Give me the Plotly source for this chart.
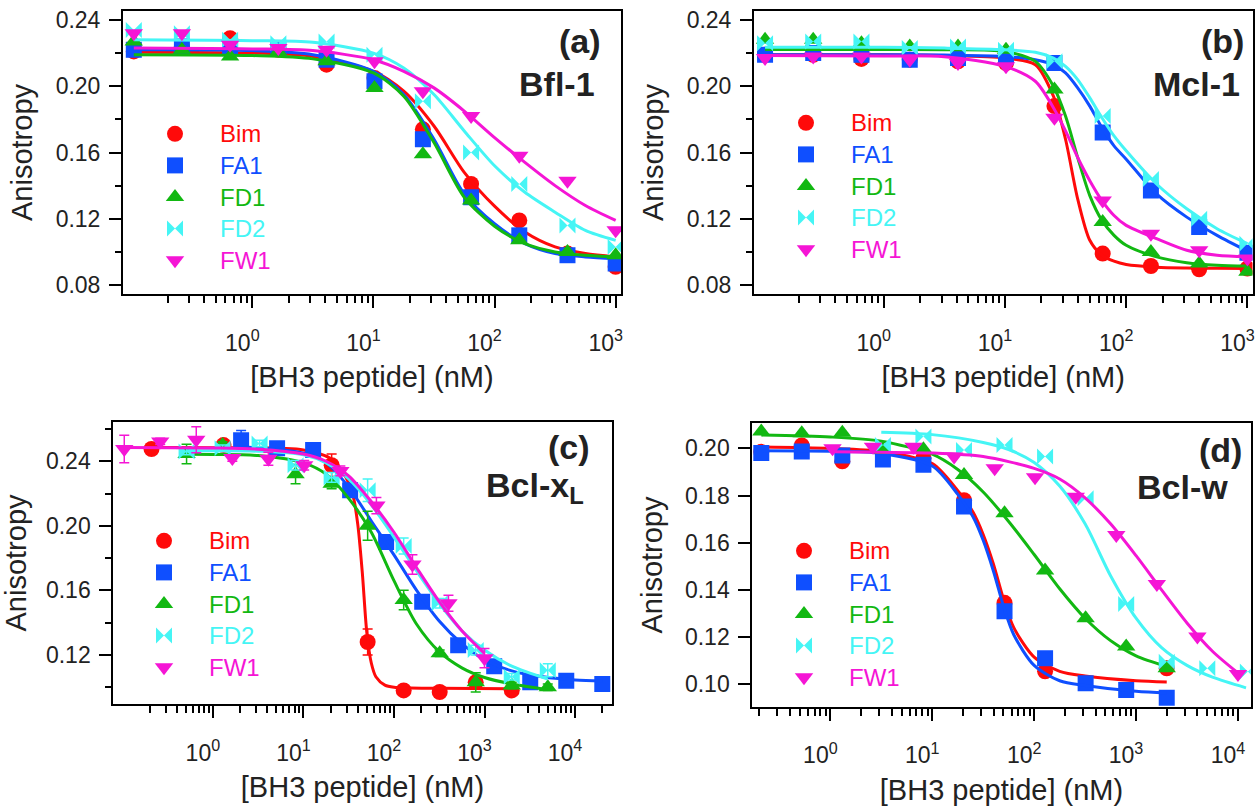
from plotly.graph_objects import Figure, Scatter

FONT = "Liberation Sans, Arial, sans-serif"
INK = "#222222"

SERIES = ["Bim", "FA1", "FD1", "FD2", "FW1"]
COLORS = ["#FF0A0A", "#0F4FFF", "#12B812", "#45F5F5", "#F515D5"]
SYMBOLS = ["circle", "square", "triangle-up", "bowtie", "triangle-down"]

TICK_VALS = [1, 10, 100, 1000, 10000]
TICK_TEXT = ["10<sup>0</sup>", "10<sup>1</sup>", "10<sup>2</sup>", "10<sup>3</sup>", "10<sup>4</sup>"]

# (a) Bfl-1
A_CONC = [0.105, 0.262, 0.655, 1.64, 4.10, 10.2, 25.6, 64.0, 160, 400, 1000]
A_BIM = [0.221, 0.224, 0.229, 0.222, 0.213, 0.205, 0.174, 0.141, 0.119, 0.099, 0.091]
A_FA1 = [0.222, 0.224, 0.223, 0.223, 0.216, 0.203, 0.168, 0.133, 0.110, 0.098, 0.093]
A_FD1 = [0.227, 0.222, 0.218, 0.221, 0.215, 0.199, 0.159, 0.131, 0.107, 0.100, 0.098]
A_FD2 = [0.234, 0.232, 0.228, 0.226, 0.227, 0.219, 0.191, 0.160, 0.141, 0.116, 0.103]
A_FW1 = [0.232, 0.232, 0.225, 0.223, 0.222, 0.215, 0.197, 0.182, 0.158, 0.143, 0.113]
A_FIT_CONC = [0.105, 1, 3.16, 10, 17.8, 31.6, 56.2, 100, 178, 316, 562, 1000]
A_FIT_BIM = [0.2205, 0.2200, 0.2180, 0.209, 0.197, 0.176, 0.148, 0.1276, 0.112, 0.103, 0.099, 0.097]
A_FIT_FA1 = [0.2220, 0.2215, 0.2190, 0.209, 0.195, 0.168, 0.135, 0.117, 0.105, 0.099, 0.097, 0.096]
A_FIT_FD1 = [0.2190, 0.2185, 0.2165, 0.208, 0.194, 0.166, 0.133, 0.1155, 0.105, 0.100, 0.098, 0.097]
A_FIT_FD2 = [0.2280, 0.2275, 0.2265, 0.220, 0.211, 0.195, 0.173, 0.152, 0.136, 0.124, 0.113, 0.107]
A_FIT_FW1 = [0.2230, 0.2225, 0.2215, 0.216, 0.209, 0.199, 0.185, 0.169, 0.154, 0.140, 0.128, 0.119]

# (b) Mcl-1
B_CONC = [0.105, 0.262, 0.655, 1.64, 4.10, 10.2, 25.6, 64.0, 160, 400, 1000]
B_BIM = [0.219, 0.219, 0.2165, 0.216, 0.215, 0.214, 0.188, 0.099, 0.0915, 0.0895, 0.090]
B_FA1 = [0.219, 0.220, 0.219, 0.216, 0.217, 0.218, 0.214, 0.172, 0.137, 0.115, 0.0995]
B_FD1 = [0.228, 0.228, 0.226, 0.224, 0.224, 0.222, 0.198, 0.118, 0.100, 0.093, 0.088]
B_FD2 = [0.226, 0.227, 0.227, 0.223, 0.224, 0.222, 0.215, 0.182, 0.144, 0.120, 0.105]
B_FW1 = [0.217, 0.218, 0.218, 0.216, 0.214, 0.212, 0.181, 0.131, 0.111, 0.101, 0.096]
B_FIT_CONC = [0.105, 1, 3.16, 10, 17.8, 25.1, 31.6, 39.8, 50.1, 63.1, 79.4, 100, 178, 316, 562, 1000]
B_FIT_BIM = [0.219, 0.219, 0.2185, 0.217, 0.213, 0.194, 0.168, 0.132, 0.107, 0.098, 0.0944,
             0.0924, 0.0908, 0.0903, 0.0901, 0.0900]
B_FIT_FA1 = [0.219, 0.219, 0.2188, 0.218, 0.216, 0.213, 0.208, 0.199, 0.188, 0.175, 0.164,
             0.156, 0.135, 0.121, 0.110, 0.1005]
B_FIT_FD1 = [0.2222, 0.2222, 0.222, 0.221, 0.215, 0.200, 0.182, 0.157, 0.134, 0.119, 0.110,
             0.104, 0.097, 0.0935, 0.092, 0.0915]
B_FIT_FD2 = [0.2235, 0.2235, 0.223, 0.222, 0.2205, 0.217, 0.212, 0.204, 0.193, 0.181, 0.170,
             0.161, 0.141, 0.126, 0.114, 0.105]
B_FIT_FW1 = [0.2185, 0.2183, 0.2178, 0.212, 0.203, 0.187, 0.173, 0.157, 0.143, 0.131, 0.122,
             0.116, 0.108, 0.101, 0.098, 0.097]

# (c) Bcl-xL
C_BIM_CONC = [0.21, 1.31, 20.5, 51.2, 128, 320, 800, 2000]
C_BIM = [0.2476, 0.2500, 0.2375, 0.128, 0.098, 0.097, 0.103, 0.098]
C_BIM_ERR = [0.002, 0.002, 0.007, 0.008, 0.003, 0.002, 0.003, 0.002]
C_FA1_CONC = [2.05, 5.12, 12.8, 32.8, 81.9, 205, 512, 1280, 3200, 8000, 20000]
C_FA1 = [0.253, 0.248, 0.247, 0.222, 0.190, 0.153, 0.126, 0.113, 0.103, 0.104, 0.102]
C_FA1_ERR = [0.006, 0.002, 0.004, 0.002, 0.002, 0.002, 0.002, 0.002, 0.002, 0.002, 0.001]
C_FD1_CONC = [0.512, 1.28, 8.19, 20.5, 51.2, 128, 320, 800, 2000, 5000]
C_FD1 = [0.2445, 0.250, 0.232, 0.226, 0.200, 0.154, 0.121, 0.103, 0.101, 0.100]
C_FD1_ERR = [0.006, 0.002, 0.006, 0.003, 0.009, 0.006, 0.002, 0.006, 0.002, 0.002]
C_FD2_CONC = [0.512, 1.28, 3.28, 8.19, 20.5, 51.2, 128, 320, 800, 2000, 5000]
C_FD2 = [0.246, 0.248, 0.251, 0.2375, 0.230, 0.222, 0.1875, 0.152, 0.123, 0.1065, 0.1105]
C_FD2_ERR = [0.002, 0.002, 0.002, 0.003, 0.003, 0.007, 0.005, 0.003, 0.003, 0.002, 0.004]
C_FW1_CONC = [0.105, 0.262, 0.655, 1.64, 4.10, 10.2, 25.6, 64.0, 160, 400, 1000]
C_FW1 = [0.2476, 0.2523, 0.2533, 0.242, 0.2415, 0.2375, 0.234, 0.2125, 0.176, 0.152, 0.118]
C_FW1_ERR = [0.0085, 0.002, 0.008, 0.002, 0.004, 0.003, 0.003, 0.005, 0.006, 0.005, 0.006]
C_FIT_BIM_CONC = [0.2, 1, 10, 20, 28.2, 35.5, 39.8, 44.7, 50.1, 56.2, 63.1, 79.4, 100, 316, 2000]
C_FIT_BIM = [0.2485, 0.2484, 0.247, 0.2417, 0.232, 0.218, 0.201, 0.171, 0.134, 0.115, 0.1065,
             0.1013, 0.100, 0.0993, 0.0990]
C_FIT_FA1_CONC = [2.05, 10, 17.8, 31.6, 56.2, 100, 178, 316, 562, 1000, 1780, 3160, 10000, 20000]
C_FIT_FA1 = [0.249, 0.245, 0.239, 0.224, 0.203, 0.182, 0.160, 0.141, 0.127, 0.117, 0.111,
             0.1075, 0.1045, 0.104]
C_FIT_FD_CONC = [0.512, 1, 3.16, 10, 17.8, 31.6, 56.2, 100, 178, 316, 562, 1000, 2000, 5000]
C_FIT_FD1 = [0.2443, 0.2442, 0.2435, 0.239, 0.232, 0.217, 0.196, 0.166, 0.139, 0.122, 0.112,
             0.106, 0.102, 0.0985]
C_FIT_FD2 = [0.2465, 0.2465, 0.2462, 0.244, 0.239, 0.229, 0.213, 0.193, 0.172, 0.152, 0.135,
             0.123, 0.113, 0.105]
C_FIT_FW1_CONC = [0.105, 1, 3.16, 10, 17.8, 31.6, 56.2, 100, 178, 316, 562, 1000]
C_FIT_FW1 = [0.2485, 0.2482, 0.2475, 0.2445, 0.240, 0.231, 0.215, 0.196, 0.174, 0.153, 0.135, 0.121]

# (d) Bcl-w
D_CONC = [0.21, 0.524, 1.31, 3.28, 8.19, 20.5, 51.2, 128, 320, 800, 2000]
D_BIM_CONC = [0.21, 0.524, 1.31, 8.19, 20.5, 51.2, 128, 2000]
D_BIM = [0.1985, 0.2012, 0.1945, 0.1958, 0.178, 0.1345, 0.1055, 0.1068]
D_FA1 = [0.198, 0.1986, 0.197, 0.1953, 0.193, 0.1753, 0.131, 0.111, 0.1004, 0.0976, 0.0943]
D_FD1 = [0.2071, 0.2064, 0.2066, 0.1993, 0.1996, 0.1887, 0.1725, 0.1482, 0.128, 0.116, 0.1068]
D_FD2_CONC = [3.28, 8.19, 20.5, 51.2, 128, 320, 800, 2000, 5000, 12500]
D_FD2 = [0.2014, 0.205, 0.1993, 0.2014, 0.1965, 0.1788, 0.134, 0.1096, 0.1068, 0.1054]
D_FW1_CONC = [1.05, 2.62, 6.55, 16.4, 41.0, 102, 256, 640, 1600, 4000, 10000]
D_FW1 = [0.200, 0.2007, 0.2007, 0.1965, 0.1915, 0.1877, 0.1795, 0.1633, 0.1425, 0.1202, 0.1044]
D_FIT_B_CONC = [0.21, 1, 3.16, 10, 17.8, 25.1, 31.6, 39.8, 50.1, 63.1, 100, 178, 316, 1000, 2000]
D_FIT_BIM = [0.2006, 0.2000, 0.1987, 0.1935, 0.182, 0.173, 0.1635, 0.151, 0.136, 0.124, 0.1115,
             0.1055, 0.1035, 0.1015, 0.1010]
D_FIT_FA1 = [0.1990, 0.1988, 0.1978, 0.1925, 0.1805, 0.171, 0.161, 0.148, 0.133, 0.121, 0.108,
             0.1015, 0.0995, 0.0970, 0.0963]
D_FIT_FD1_CONC = [0.21, 1, 3.16, 10, 17.8, 31.6, 56.2, 100, 178, 316, 562, 1000, 2000]
D_FIT_FD1 = [0.2056, 0.2048, 0.203, 0.1975, 0.191, 0.1815, 0.169, 0.155, 0.1405, 0.128, 0.1185,
             0.112, 0.1075]
D_FIT_FD2_CONC = [3.16, 10, 31.6, 56.2, 100, 178, 316, 562, 1000, 1780, 3160, 5620, 12000]
D_FIT_FD2 = [0.2068, 0.2058, 0.2025, 0.1995, 0.194, 0.184, 0.168, 0.146, 0.128, 0.1155, 0.108,
             0.103, 0.0985]
D_FIT_FW1_CONC = [1.05, 3.16, 10, 31.6, 100, 178, 316, 562, 1000, 1780, 3160, 5620, 10000]
D_FIT_FW1 = [0.1985, 0.1983, 0.198, 0.1965, 0.1915, 0.187, 0.179, 0.168, 0.1545, 0.140, 0.126,
             0.114, 0.1048]

PANELS = [
    {
        "series": [
            (A_CONC, A_BIM, None, A_FIT_CONC, A_FIT_BIM),
            (A_CONC, A_FA1, None, A_FIT_CONC, A_FIT_FA1),
            (A_CONC, A_FD1, None, A_FIT_CONC, A_FIT_FD1),
            (A_CONC, A_FD2, None, A_FIT_CONC, A_FIT_FD2),
            (A_CONC, A_FW1, None, A_FIT_CONC, A_FIT_FW1),
        ],
        "xdomain": [123, 621], "ydomain": [11, 294],
        "xrange": [-1.068, 3.044], "yrange": [0.0746, 0.2454],
        "dtick": 0.04, "minor": 0.02, "legend": (130, 113),
        "label": ("<b>(a)</b>", 603, 41), "name": ("<b>Bfl-1</b>", 597, 84),
    },
    {
        "series": [
            (B_CONC, B_BIM, None, B_FIT_CONC, B_FIT_BIM),
            (B_CONC, B_FA1, None, B_FIT_CONC, B_FIT_FA1),
            (B_CONC, B_FD1, None, B_FIT_CONC, B_FIT_FD1),
            (B_CONC, B_FD2, None, B_FIT_CONC, B_FIT_FD2),
            (B_CONC, B_FW1, None, B_FIT_CONC, B_FIT_FW1),
        ],
        "xdomain": [754, 1252.5], "ydomain": [11, 294],
        "xrange": [-1.07, 3.042], "yrange": [0.0746, 0.2454],
        "dtick": 0.04, "minor": 0.02, "legend": (761, 102),
        "label": ("<b>(b)</b>", 1246, 41), "name": ("<b>Mcl-1</b>", 1242, 84),
    },
    {
        "series": [
            (C_BIM_CONC, C_BIM, C_BIM_ERR, C_FIT_BIM_CONC, C_FIT_BIM),
            (C_FA1_CONC, C_FA1, C_FA1_ERR, C_FIT_FA1_CONC, C_FIT_FA1),
            (C_FD1_CONC, C_FD1, C_FD1_ERR, C_FIT_FD_CONC, C_FIT_FD1),
            (C_FD2_CONC, C_FD2, C_FD2_ERR, C_FIT_FD_CONC, C_FIT_FD2),
            (C_FW1_CONC, C_FW1, C_FW1_ERR, C_FIT_FW1_CONC, C_FIT_FW1),
        ],
        "xdomain": [113.3, 611.7], "ydomain": [421.7, 704.3],
        "xrange": [-1.10, 4.405], "yrange": [0.0894, 0.2645],
        "dtick": 0.04, "minor": 0.02, "legend": (119, 520),
        "label": ("<b>(c)</b>", 592, 447.5), "name": ("<b>Bcl-x<sub>L</sub></b>", 586, 487),
    },
    {
        "series": [
            (D_BIM_CONC, D_BIM, None, D_FIT_B_CONC, D_FIT_BIM),
            (D_CONC, D_FA1, None, D_FIT_B_CONC, D_FIT_FA1),
            (D_CONC, D_FD1, None, D_FIT_FD1_CONC, D_FIT_FD1),
            (D_FD2_CONC, D_FD2, None, D_FIT_FD2_CONC, D_FIT_FD2),
            (D_FW1_CONC, D_FW1, None, D_FIT_FW1_CONC, D_FIT_FW1),
        ],
        "xdomain": [752.3, 1250.7], "ydomain": [423.3, 706.7],
        "xrange": [-0.766, 4.125], "yrange": [0.0905, 0.2106],
        "dtick": 0.02, "minor": None, "legend": (759, 530),
        "label": ("<b>(d)</b>", 1244, 450), "name": ("<b>Bcl-w</b>", 1230, 487),
    },
]

WIDTH, HEIGHT = 1259, 809
MINOR_X = [m * 10.0**k for k in range(-1, 5) for m in range(2, 10)]


def px_x(value: float) -> float:
    return value / WIDTH


def px_y(value: float) -> float:
    return 1 - value / HEIGHT


def axis_style() -> dict:
    return dict(
        showline=True, linecolor="black", linewidth=2, mirror=True,
        ticks="outside", ticklen=12, tickwidth=2, tickcolor="black",
        showgrid=False, zeroline=False, automargin=False,
        tickfont=dict(family=FONT, size=23, color=INK),
        title_font=dict(family=FONT, size=29, color=INK),
    )


def main() -> None:
    fig = Figure()
    layout = {}
    annotations = []
    for i, panel in enumerate(PANELS, start=1):
        sfx = "" if i == 1 else str(i)
        legend_id = "legend" if i == 1 else f"legend{i}"
        for (conc, vals, err, fit_conc, fit_vals), name, color, symbol in zip(
            panel["series"], SERIES, COLORS, SYMBOLS
        ):
            fig.add_trace(
                Scatter(
                    x=conc, y=vals, mode="markers",
                    name=f'<span style="color:{color};font-size:24px">{name}</span>',
                    marker=dict(symbol=symbol, size=16, color=color, line=dict(width=0)),
                    error_y=(
                        dict(type="data", array=err, color=color, thickness=1.5, width=5)
                        if err else None
                    ),
                    xaxis=f"x{sfx}", yaxis=f"y{sfx}", legend=legend_id,
                )
            )
            fig.add_trace(
                Scatter(
                    x=fit_conc, y=fit_vals, mode="lines", showlegend=False,
                    line=dict(color=color, width=3, shape="spline", smoothing=0.8),
                    xaxis=f"x{sfx}", yaxis=f"y{sfx}", hoverinfo="skip",
                )
            )

        xaxis = axis_style()
        xaxis.update(
            type="log", range=panel["xrange"],
            domain=[px_x(panel["xdomain"][0]), px_x(panel["xdomain"][1])],
            anchor=f"y{sfx}", tickmode="array", tickvals=TICK_VALS, ticktext=TICK_TEXT,
            ticklabelstandoff=15, ticklabelshift=-10, ticklabeloverflow="allow",
            minor=dict(tickmode="array", tickvals=MINOR_X, ticks="outside",
                       ticklen=7, tickwidth=1.5, tickcolor="black", showgrid=False),
            title=dict(text="[BH3 peptide] (nM)", standoff=12),
        )
        yaxis = axis_style()
        yaxis.update(
            range=panel["yrange"],
            domain=[px_y(panel["ydomain"][1]), px_y(panel["ydomain"][0])],
            anchor=f"x{sfx}", tick0=0, dtick=panel["dtick"], tickformat=".2f",
            ticklabelstandoff=4,
            title=dict(text="Anisotropy", standoff=14),
        )
        if panel["minor"]:
            yaxis["minor"] = dict(dtick=panel["minor"], ticks="outside", ticklen=6,
                                  tickwidth=1.5, tickcolor="black", showgrid=False)
        layout[f"xaxis{sfx}"] = xaxis
        layout[f"yaxis{sfx}"] = yaxis
        lx, ly = panel["legend"]
        layout[legend_id] = dict(
            x=px_x(lx), y=px_y(ly), xanchor="left", yanchor="top",
            bgcolor="rgba(0,0,0,0)", itemwidth=80, tracegroupgap=0,
            font=dict(family=FONT, size=22),
        )
        for text, rx, cy in (panel["label"], panel["name"]):
            annotations.append(
                dict(text=text, x=px_x(rx), y=px_y(cy), xref="paper", yref="paper",
                     xanchor="right", yanchor="middle", showarrow=False,
                     font=dict(family=FONT, size=34, color=INK))
            )

    fig.update_layout(
        **layout,
        annotations=annotations,
        width=WIDTH, height=HEIGHT,
        margin=dict(l=0, r=0, t=0, b=0),
        paper_bgcolor="white", plot_bgcolor="white",
    )
    # the page's default body margin would shift the fixed-size figure
    fig.write_html(
        "out.html",
        config={"displayModeBar": False},
        post_script="document.body.style.margin = '0px';",
    )


if __name__ == "__main__":
    main()
